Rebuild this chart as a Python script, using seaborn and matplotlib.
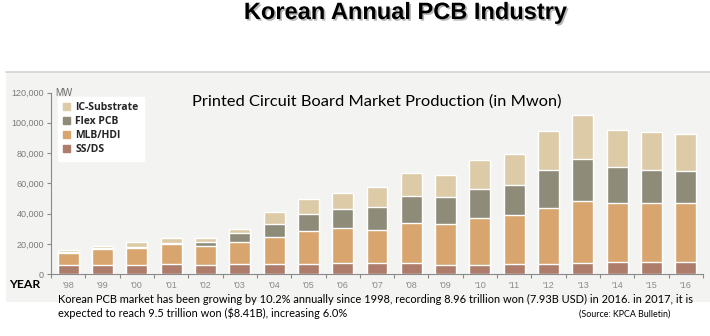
import numpy as np
import pandas as pd
import matplotlib
matplotlib.use("Agg")
import matplotlib.pyplot as plt
import matplotlib.patches as mpatches
import matplotlib.patheffects as pe
from matplotlib.ticker import FuncFormatter, FixedLocator
import seaborn as sns

years = ["'98", "'99", "'00", "'01", "'02", "'03", "'04", "'05", "'06", "'07",
         "'08", "'09", "'10", "'11", "'12", "'13", "'14", "'15", "'16"]
ss_ds = [6000, 6000, 6000, 6600, 5900, 6600, 6600, 6600, 7700, 7300,
         7500, 6400, 6400, 6600, 7000, 7300, 8100, 8400, 8400]
mlb_hdi = [8300, 10500, 11600, 13200, 13000, 14900, 18200, 21800, 22600, 22000,
           26600, 26600, 31000, 32600, 37000, 41100, 39200, 38900, 38700]
flex_pcb = [600, 1100, 600, 1100, 2600, 5500, 8200, 11200, 12600, 15100,
            17400, 17800, 19100, 19500, 24900, 27500, 23500, 21800, 21300]
ic_sub = [900, 900, 3100, 3300, 2700, 3100, 8300, 9900, 11000, 13000,
          15400, 14500, 19000, 20700, 25500, 29000, 24700, 24800, 24400]

series_names = ["SS/DS", "MLB/HDI", "Flex PCB", "IC-Substrate"]
colors = {"SS/DS": "#ad7c6a", "MLB/HDI": "#d8a56f", "Flex PCB": "#8f8b79", "IC-Substrate": "#dccba6"}

df = pd.DataFrame({"year": years, "SS/DS": ss_ds, "MLB/HDI": mlb_hdi,
                   "Flex PCB": flex_pcb, "IC-Substrate": ic_sub})
cum = df[series_names].cumsum(axis=1)
cum["year"] = df["year"]

sns.set_style("white")
fig = plt.figure(figsize=(7.10, 3.36), dpi=100)

# scanned-chart background band
bg = mpatches.Rectangle((6/710, 1-302/336), 704/710, 230/336,
                        transform=fig.transFigure, facecolor="#f3f3f1",
                        edgecolor="none", zorder=-5)
fig.add_artist(bg)
fig.add_artist(plt.Line2D([6/710, 1], [1-72/336, 1-72/336], transform=fig.transFigure,
                          color="#d2d2d2", lw=1.2, zorder=-4))

ax = fig.add_axes([51/710, 1-274.3/336, (703-51)/710, (274.3-92.5)/336])
ax.set_facecolor("none")

for name in reversed(series_names):
    sns.barplot(data=cum, x="year", y=name, color=colors[name], width=0.61,
                saturation=1, ax=ax, zorder=2)

ax.set_ylim(0, 120000)
ax.set_xlim(-0.5, len(years) - 0.5)
ax.set_xlabel("")
ax.set_ylabel("")
ax.set_yticks(np.arange(0, 120001, 20000))
ax.yaxis.set_major_formatter(FuncFormatter(lambda v, p: f"{int(v):,}"))
ax.xaxis.set_ticks_position("bottom")
ax.tick_params(axis="y", length=3, width=0.8, color="#8a8a8a", labelsize=6.5,
               labelcolor="#7a7a7a", pad=2, left=True)
ax.tick_params(axis="x", which="major", length=0, labelsize=6.5, labelcolor="#8a8a8a",
               pad=5, labelbottom=True, labeltop=False)
ax.xaxis.set_minor_locator(FixedLocator(np.arange(-0.5, len(years), 1.0)))
ax.tick_params(axis="x", which="minor", length=3, width=0.8, color="#8a8a8a", bottom=True)
for t in ax.get_yticklabels() + ax.get_xticklabels():
    t.set_fontfamily("Liberation Sans")
sns.despine(ax=ax)
for s in ["left", "bottom"]:
    ax.spines[s].set_color("#8a8a8a")
    ax.spines[s].set_linewidth(0.8)

ax.text(0.006, 120000, "MW", transform=ax.get_yaxis_transform(), ha="left", va="center",
        fontsize=7, color="#6a6a6a", family="Liberation Sans")

handles = [mpatches.Patch(color=colors[n], label=n) for n in reversed(series_names)]
leg = ax.legend(handles=handles, loc="upper left", bbox_to_anchor=(0.002, 1.005),
                frameon=True, fancybox=False, framealpha=1, edgecolor="white",
                handlelength=0.7, handleheight=0.7, handletextpad=0.5,
                labelspacing=0.3, borderpad=0.5,
                prop={"family": "Open Sans", "weight": "bold", "size": 7.5})
leg.get_frame().set_facecolor("white")

fig.text(406/710, 1-12.5/336, "Korean Annual PCB Industry", ha="center", va="center",
         fontsize=17, fontweight="bold", family="Liberation Sans", color="black",
         path_effects=[pe.withSimplePatchShadow(offset=(1.2, -1.2), shadow_rgbFace="#888888", alpha=0.6)])

fig.text(377/710, 1-101.5/336, "Printed Circuit Board Market Production (in Mwon)",
         ha="center", va="center", fontsize=11.8, family="Lato", color="black")

fig.text(9/710, 1-285/336, "YEAR", ha="left", va="center", fontsize=8.8,
         fontweight="bold", family="Lato", color="black")

fig.text(58/710, 1-299/336,
         "Korean PCB market has been growing by 10.2% annually since 1998, recording 8.96 trillion won (7.93B USD) in 2016. in 2017, it is",
         ha="left", va="center", fontsize=7.9, family="Lato", color="black")
fig.text(58/710, 1-313/336,
         "expected to reach 9.5 trillion won ($8.41B), increasing 6.0%",
         ha="left", va="center", fontsize=7.9, family="Lato", color="black")
fig.text(625/710, 1-314/336, "(Source: KPCA Bulletin)", ha="center", va="center",
         fontsize=6.4, family="Lato", color="black")

fig.savefig("out.png", dpi=100)
